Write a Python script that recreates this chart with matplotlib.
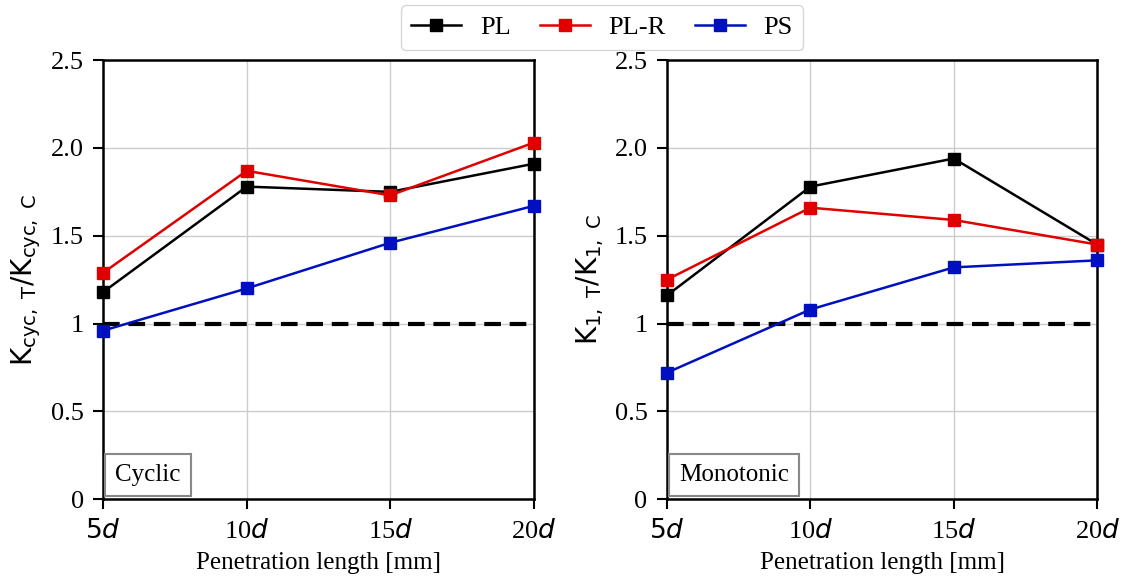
import matplotlib
matplotlib.use('Agg')
import matplotlib.pyplot as plt
from matplotlib.lines import Line2D

# Penetration lengths (multiples of pile diameter d)
lengths = [5, 10, 15, 20]
length_labels = ['$5d$', '10$d$', '15$d$', '20$d$']

# Stiffness ratios, cyclic tests
cyc_pl = [1.18, 1.78, 1.75, 1.91]
cyc_plr = [1.29, 1.87, 1.73, 2.03]
cyc_ps = [0.96, 1.20, 1.46, 1.67]

# Stiffness ratios, monotonic tests
mono_pl = [1.16, 1.78, 1.94, 1.45]
mono_plr = [1.25, 1.66, 1.59, 1.45]
mono_ps = [0.72, 1.08, 1.32, 1.36]

yticks = [0, 0.5, 1, 1.5, 2.0, 2.5]
ytick_labels = ['0', '0.5', '1', '1.5', '2.0', '2.5']

series_names = ['PL', 'PL-R', 'PS']
colors = ['black', '#e00000', '#0010c0']

plt.rcParams['font.family'] = ['Liberation Serif', 'DejaVu Serif']
plt.rcParams['mathtext.fontset'] = 'dejavusans'

fig, axes = plt.subplots(1, 2, figsize=(11.23, 5.79), dpi=100)
fig.subplots_adjust(left=0.092, right=0.977, top=0.896, bottom=0.138, wspace=0.31)


def draw_panel(ax, data, ylabel, tag):
    ax.axhline(1, color='black', lw=3, ls=(0, (4, 2.1)), zorder=2)
    for vals, c in zip(data, colors):
        ax.plot(lengths, vals, color=c, lw=1.8, marker='s', ms=8, zorder=3,
                clip_on=False)
    ax.set_xlim(5, 20)
    ax.set_ylim(0, 2.5)
    ax.set_xticks(lengths)
    ax.set_xticklabels(length_labels, fontsize=19)
    ax.set_yticks(yticks)
    ax.set_yticklabels(ytick_labels, fontsize=19)
    ax.grid(True, color='#cccccc', lw=1)
    ax.set_axisbelow(True)
    ax.tick_params(direction='out', length=7, width=1.5, pad=7)
    for sp in ax.spines.values():
        sp.set_linewidth(1.8)
    ax.set_xlabel('Penetration length [mm]', fontsize=18, labelpad=7)
    ax.set_ylabel(ylabel, fontsize=20, family='DejaVu Sans', labelpad=6)
    ax.text(0.028, 0.03, tag, transform=ax.transAxes, fontsize=18,
            ha='left', va='bottom', zorder=5,
            bbox=dict(boxstyle='square,pad=0.4', fc='white', ec='#888888', lw=1.5))


draw_panel(axes[0], [cyc_pl, cyc_plr, cyc_ps],
           r'K$_{\mathrm{cyc,\ T}}$/K$_{\mathrm{cyc,\ C}}$', 'Cyclic')
draw_panel(axes[1], [mono_pl, mono_plr, mono_ps],
           r'K$_{\mathrm{1,\ T}}$/K$_{\mathrm{1,\ C}}$', 'Monotonic')

handles = [Line2D([], [], color=c, lw=1.8, marker='s', ms=8) for c in colors]
fig.legend(handles, series_names, loc='upper center', ncol=3, fontsize=19,
           bbox_to_anchor=(0.536, 1.0), borderaxespad=0.2, handlelength=1.9,
           columnspacing=1.1, handletextpad=0.7, frameon=True, fancybox=True,
           edgecolor='#cccccc')

fig.savefig('out.png', dpi=100)
